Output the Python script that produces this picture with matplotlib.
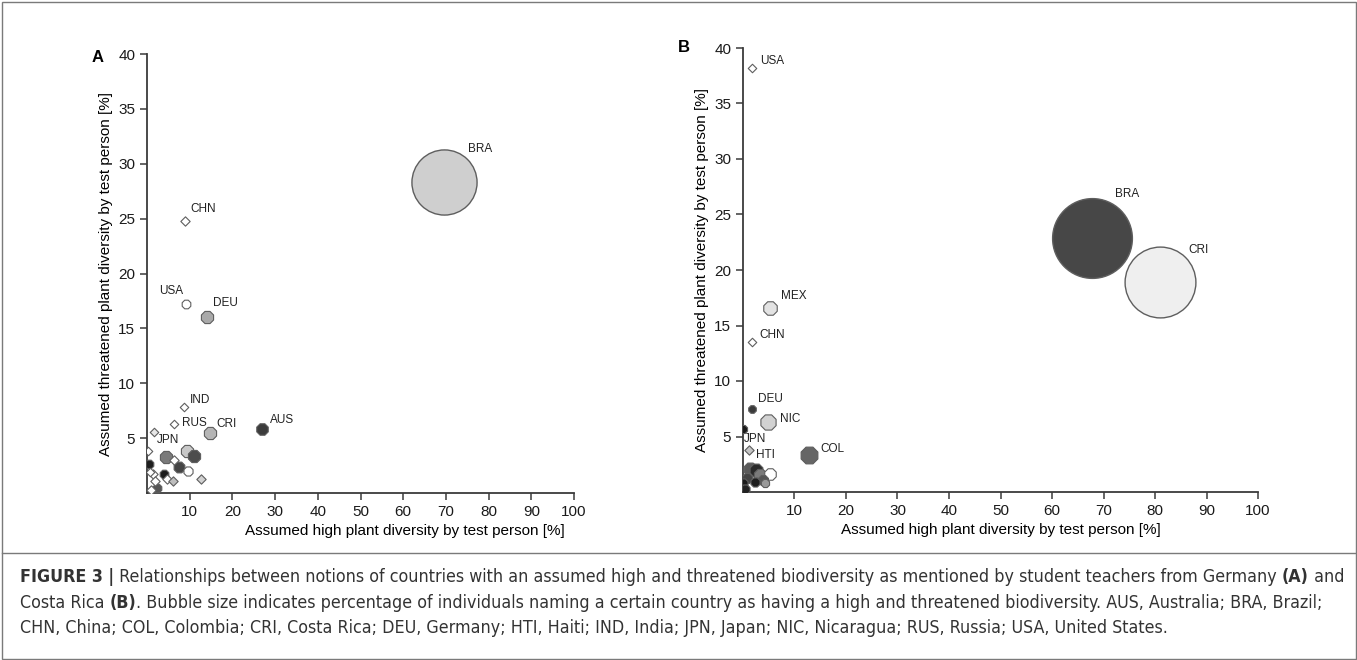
import matplotlib
matplotlib.use("Agg")
import matplotlib.pyplot as plt
from matplotlib import font_manager
from matplotlib.font_manager import FontProperties
from matplotlib.lines import Line2D
from matplotlib.patches import Rectangle

# ---- panel A: student teachers from Germany ----
a_x = [69.6, 9.0, 9.1, 14.0, 8.6, 6.3, 14.8, 26.9, 1.7,
       4.4, 9.4, 11.1, 6.4, 7.5, 9.7, 12.7, 0.5, 0.3, 1.3, 1.8, 3.9, 4.6, 6.1, 2.3, 1.0, 0.7]
a_y = [28.3, 24.8, 17.2, 16.0, 7.8, 6.3, 5.5, 5.8, 5.6,
       3.3, 3.8, 3.4, 3.0, 2.4, 2.0, 1.3, 2.6, 3.8, 1.7, 1.1, 1.7, 1.3, 1.1, 0.5, 0.3, 1.9]
a_named = [22, 0.3, 0.45, 0.9, 0.25, 0.25, 0.9, 0.8, 0.25,
           0.9, 0.9, 0.9, 0.3, 0.7, 0.5, 0.3, 0.45, 0.25, 0.3, 0.3, 0.45, 0.3, 0.3, 0.45, 0.3, 0.25]
a_tone = ['#cfcfcf', '#ffffff', '#ffffff', '#a9a9a9', '#ffffff', '#ffffff', '#b5b5b5', '#3c3c3c', '#e8e8e8',
          '#7a7a7a', '#c8c8c8', '#4d4d4d', '#ffffff', '#454545', '#ffffff', '#d0d0d0', '#1e1e1e', '#ffffff',
          '#ffffff', '#ffffff', '#1e1e1e', '#ffffff', '#bdbdbd', '#555555', '#ffffff', '#ffffff']
a_code = ['BRA', 'CHN', 'USA', 'DEU', 'IND', 'RUS', 'CRI', 'AUS', 'JPN'] + [''] * 17

# ---- panel B: student teachers from Costa Rica ----
b_x = [67.8, 81.0, 1.7, 5.2, 1.7, 1.8, 4.9, 0.0, 1.1, 12.8,
       1.4, 2.5, 3.3, 5.2, 0.7, 3.9, 2.3, 0.0, 4.3, 0.4]
b_y = [22.9, 18.9, 38.2, 16.6, 13.5, 7.5, 6.3, 5.7, 3.8, 3.3,
       2.1, 2.0, 1.5, 1.6, 1.3, 1.1, 0.9, 0.8, 0.8, 0.3]
b_named = [33, 26, 0.25, 1.1, 0.25, 0.35, 1.4, 0.4, 0.3, 1.7,
           1.0, 1.0, 0.9, 0.8, 0.6, 0.6, 0.5, 0.5, 0.4, 0.5]
b_tone = ['#474747', '#efefef', '#ffffff', '#e3e3e3', '#ffffff', '#3a3a3a', '#d2d2d2', '#1a1a1a', '#c4c4c4', '#666666',
          '#5a5a5a', '#2a2a2a', '#7a7a7a', '#ffffff', '#444444', '#555555', '#1e1e1e', '#1a1a1a', '#999999', '#222222']
b_code = ['BRA', 'CRI', 'USA', 'MEX', 'CHN', 'DEU', 'NIC', 'JPN', 'HTI', 'COL'] + [''] * 10

# label offsets in pixels (layout only)
a_offsets = {'BRA': (24, 33), 'CHN': (5, 12), 'USA': (-27, 13), 'DEU': (6, 14), 'IND': (6, 7),
             'RUS': (8, 1), 'CRI': (6, 9), 'AUS': (8, 9), 'JPN': (3, -8)}
b_offsets = {'BRA': (23, 44), 'CRI': (28, 32), 'USA': (8, 7), 'MEX': (11, 12), 'CHN': (8, 7),
             'DEU': (6, 10), 'NIC': (12, 3), 'JPN': (1, -10), 'HTI': (7, -5), 'COL': (11, 6)}

plt.rcParams['font.family'] = ['Liberation Sans', 'DejaVu Sans']

fig = plt.figure(figsize=(13.57, 6.6), dpi=100)
W, H = 1357, 660


def px_box(l, t, r, b):
    return [l / W, 1 - b / H, (r - l) / W, (b - t) / H]


def draw_panel(ax, xs, ys, named, tones, codes, offsets):
    order = sorted(range(len(xs)), key=lambda i: -named[i])
    for i in order:
        n = named[i]
        if n >= 10:
            mk, s, lw = 'o', n * 100, 1.0
        elif n <= 0.3:
            mk, s, lw = 'D', n * 75, 0.8
        else:
            mk, s, lw = '8', n * 100, 0.8
        ax.scatter(xs[i], ys[i], s=s, marker=mk, facecolor=tones[i],
                   edgecolor='#5e5e5e', linewidth=lw, zorder=3)
        if codes[i]:
            dx, dy = offsets[codes[i]]
            ax.annotate(codes[i], (xs[i], ys[i]), xytext=(dx, dy),
                        textcoords='offset pixels', ha='left', va='center',
                        fontsize=8.5, color='#222222', zorder=4)
    ax.set_xlim(0, 100)
    ax.set_ylim(0, 40)
    ax.set_xticks(range(10, 101, 10))
    ax.set_yticks(range(5, 41, 5))
    for side in ('top', 'right'):
        ax.spines[side].set_visible(False)
    for side in ('left', 'bottom'):
        ax.spines[side].set_color('#3a3a3a')
        ax.spines[side].set_linewidth(1.3)
    ax.tick_params(direction='out', length=5, width=1.1, color='#3a3a3a',
                   labelsize=11, labelcolor='#1a1a1a')
    ax.set_xlabel('Assumed high plant diversity by test person [%]', fontsize=11, labelpad=4)
    ax.set_ylabel('Assumed threatened plant diversity by test person [%]', fontsize=11, labelpad=4)


ax_a = fig.add_axes(px_box(147, 54, 574, 493))
draw_panel(ax_a, a_x, a_y, a_named, a_tone, a_code, a_offsets)
ax_a.xaxis.label.set_x(0.604)
ax_b = fig.add_axes(px_box(743, 48, 1258, 492))
draw_panel(ax_b, b_x, b_y, b_named, b_tone, b_code, b_offsets)

fig.text(92 / W, 1 - 57 / H, 'A', fontsize=12, fontweight='bold', va='center')
fig.text(678 / W, 1 - 47 / H, 'B', fontsize=12, fontweight='bold', va='center')

# frame and separator
fig.add_artist(Rectangle((1.5 / W, 1.5 / H), 1 - 3 / W, 1 - 3 / H, transform=fig.transFigure,
                         fill=False, edgecolor='#7a7a7a', linewidth=1.0))
fig.add_artist(Line2D([1.5 / W, 1 - 1.5 / W], [1 - 553 / H, 1 - 553 / H], transform=fig.transFigure,
                      color='#7a7a7a', linewidth=1.0))

caption = [
    [('FIGURE 3 |', 'bold'), (' Relationships between notions of countries with an assumed high and threatened '
                              'biodiversity as mentioned by student teachers from Germany ', 'normal'),
     ('(A)', 'bold'), (' and', 'normal')],
    [('Costa Rica ', 'normal'), ('(B)', 'bold'), ('. Bubble size indicates percentage of individuals naming a '
                                                  'certain country as having a high and threatened biodiversity. '
                                                  'AUS, Australia; BRA, Brazil;', 'normal')],
    [('CHN, China; COL, Colombia; CRI, Costa Rica; DEU, Germany; HTI, Haiti; IND, India; JPN, Japan; '
      'NIC, Nicaragua; RUS, Russia; USA, United States.', 'normal')],
]
renderer = fig.canvas.get_renderer()


def write_line(line, x, y, size, fps):
    for txt, wt in line:
        fp = fps[wt].copy()
        fp.set_size(size)
        t = fig.text(x / W, y, txt, fontproperties=fp, color='#333333', va='baseline', ha='left')
        x += t.get_window_extent(renderer).width
    return x


# caption font: among Liberation Sans and condensed sans faces, take the one whose
# size that fills the caption width is closest to the reference letter height
options = [{'normal': FontProperties(family='Liberation Sans'),
            'bold': FontProperties(family='Liberation Sans', weight='bold')}]
ttf = font_manager.fontManager.ttflist
seen = set()
for f in ttf:
    if 'Serif' in f.name or 'Mono' in f.name:
        continue
    if 'Narrow' in f.name or 'Condensed' in f.name or f.stretch in ('condensed', 'semi-condensed'):
        key = (f.name, f.stretch)
        if key in seen:
            continue
        seen.add(key)
        fams = [g for g in ttf if (g.name, g.stretch) == key and g.style == 'normal']
        regs = [g for g in fams if g.weight in (400, 'normal', 'regular', 'book')]
        bolds = [g for g in fams if g.weight in (700, 'bold')]
        if regs and bolds:
            options.append({'normal': FontProperties(fname=regs[0].fname),
                            'bold': FontProperties(fname=bolds[0].fname)})

best = None
for fps in options:
    n_before = len(fig.texts)
    width = write_line(caption[0], 20, -1, 10, fps) - 20
    for t in list(fig.texts)[n_before:]:
        t.remove()
    size = 10 * 1323 / width
    if best is None or abs(size - 12.2) < abs(best[0] - 12.2):
        best = (size, fps)

cap_size, cap_fps = best
for k, line in enumerate(caption):
    write_line(line, 20, 1 - (582 + 25.5 * k) / H, cap_size, cap_fps)

fig.savefig('out.png', dpi=100)
